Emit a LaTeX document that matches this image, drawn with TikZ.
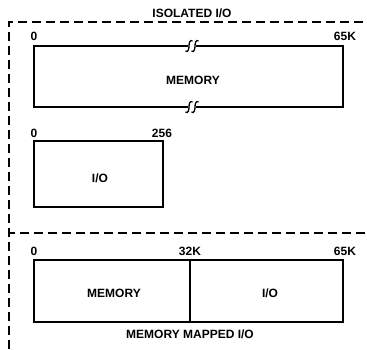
\documentclass[tikz,border=0pt]{standalone}
\usepackage{fontspec}
\setmainfont{Liberation Sans}
\begin{document}
\begin{tikzpicture}[x=1pt,y=-1pt,
  lbl/.style={font=\bfseries\fontsize{12}{13}\selectfont, inner sep=0pt},
  boxline/.style={line width=2.2pt},
  dashframe/.style={line width=1.2pt, dash pattern=on 9pt off 5pt},
  brk/.style={line width=1.3pt}]
\useasboundingbox (0,0) rectangle (367,349);
% dashed frames
\draw[dashframe] (9,349) -- (9,22) -- (367,22);
\draw[dashframe] (9,236) -- (9,233) -- (367,233);
% titles
\node[lbl] (t1) at (192,13) {ISOLATED I/O};
\node[lbl] (t2) at (190,334) {MEMORY MAPPED I/O};
% memory box with breaks
\draw[boxline] (188,46) -- (34,46) -- (34,107) -- (188,107);
\draw[boxline] (196,46) -- (343,46) -- (343,107) -- (196,107);
\foreach \cy in {46,107} {
  \foreach \cx in {189,195} {
    \draw[brk] (\cx-3.5,\cy+5) .. controls (\cx-1,\cy+7) and (\cx,\cy+3) .. (\cx,\cy)
      .. controls (\cx,\cy-3) and (\cx+1,\cy-7) .. (\cx+3.5,\cy-5);
  }
}
\node[lbl] (mem) at (193,80) {MEMORY};
\node[lbl] (a0) at (34,36) {0};
\node[lbl] (a65) at (345,36) {65K};
% I/O box
\draw[boxline] (34,141) rectangle (163,207);
\node[lbl] (io) at (100,178) {I/O};
\node[lbl] (b0) at (34,133) {0};
\node[lbl] (b256) at (162,133) {256};
% memory mapped box
\draw[boxline] (34,260) rectangle (343,322);
\draw[boxline] (190,260) -- (190,322);
\node[lbl] (mem2) at (114,293) {MEMORY};
\node[lbl] (io2) at (270,293) {I/O};
\node[lbl] (c0) at (34,251) {0};
\node[lbl] (c32) at (190,251) {32K};
\node[lbl] (c65) at (345,251) {65K};
\end{tikzpicture}
\end{document}
